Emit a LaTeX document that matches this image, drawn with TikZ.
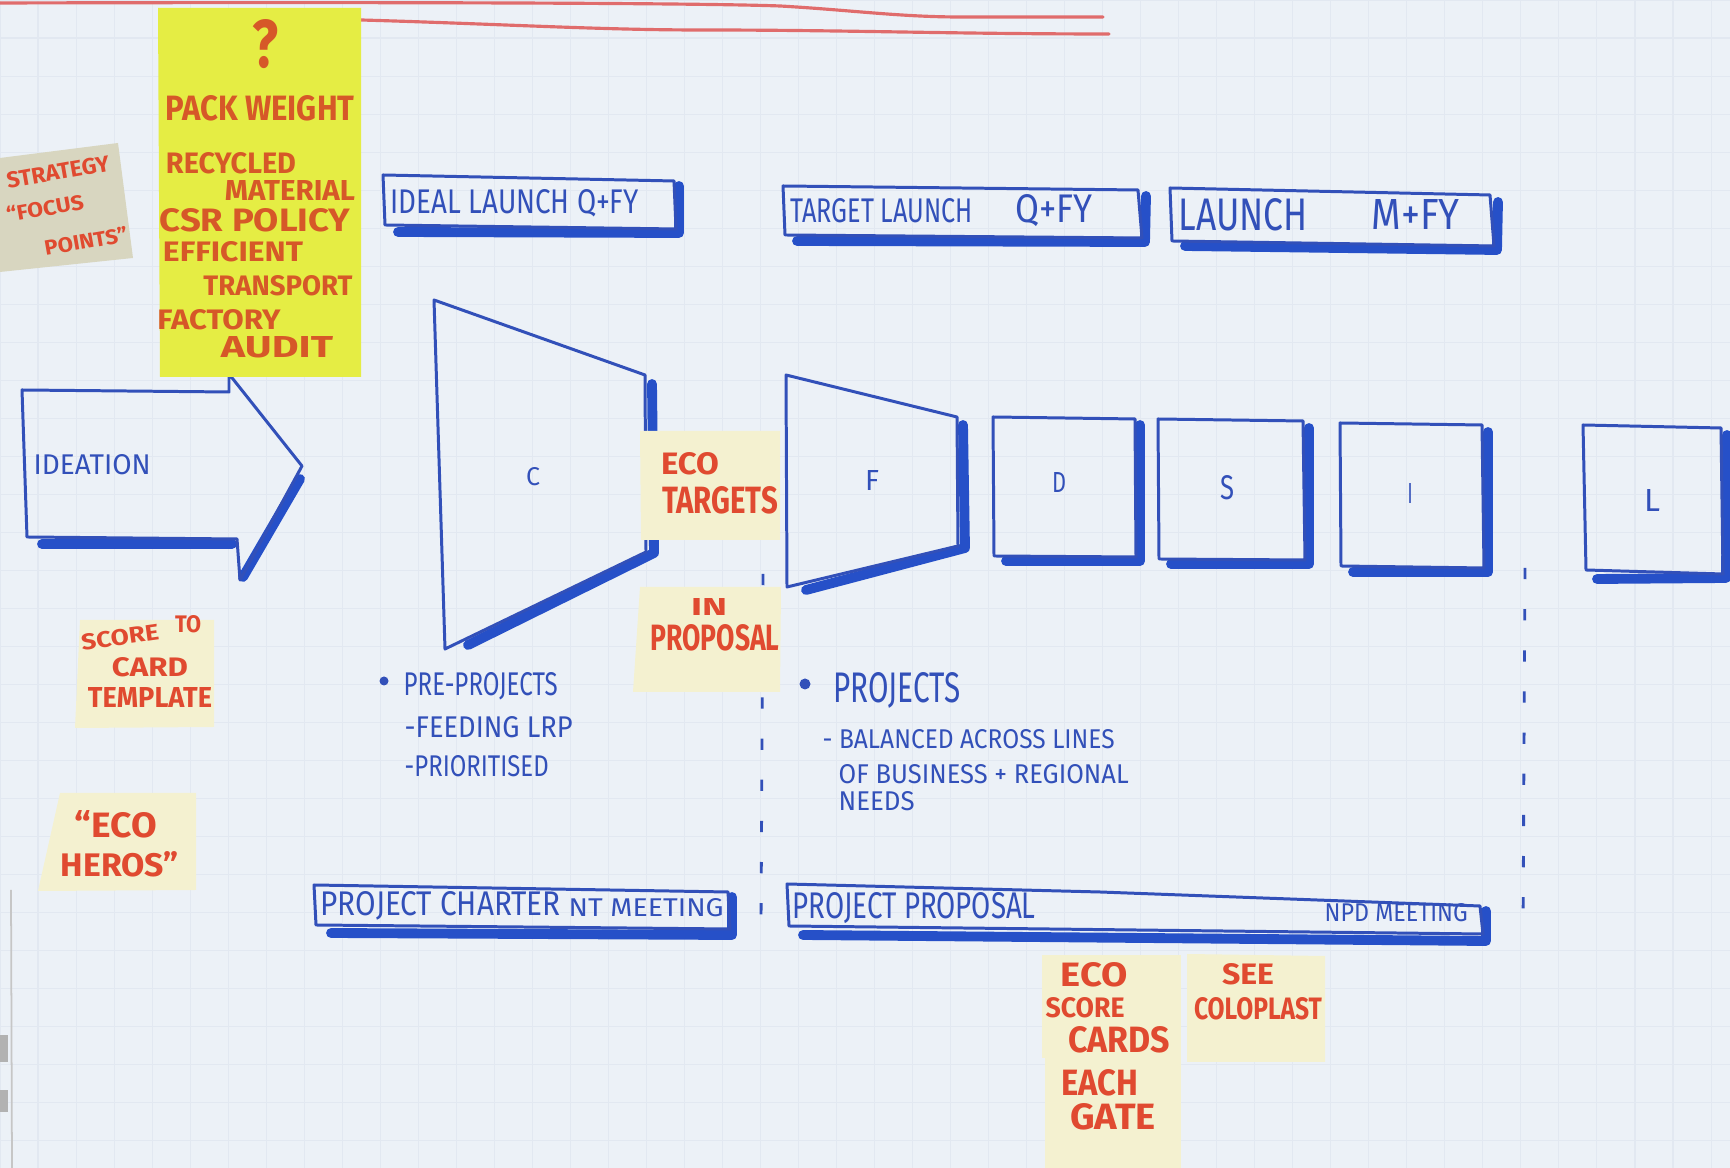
\documentclass[tikz,border=0pt]{standalone}
\usepackage{fontspec}
\setmainfont{Fira Sans}
\usepackage{graphicx}

\definecolor{paper}{RGB}{236,241,247}
\definecolor{gridc}{RGB}{226,232,241}
\definecolor{blueink}{RGB}{50,80,185}
\definecolor{blueshadow}{RGB}{38,80,200}
\definecolor{redink}{RGB}{224,74,48}
\definecolor{orangeink}{RGB}{214,88,40}
\definecolor{stickypale}{RGB}{244,241,208}
\definecolor{stickyyellow}{RGB}{229,237,68}
\definecolor{stickygrey}{RGB}{216,214,192}
\definecolor{redline}{RGB}{224,108,108}

% one drawing unit = one pixel of the sheet
\newlength\pxu \setlength\pxu{0.01cm}
% text squeezed to a given width and cap height (in pixels)
\newcommand\fitt[3]{\resizebox{#1\pxu}{#2\pxu}{#3}}

\tikzset{
  redtxt/.style={text=redink, font=\bfseries, inner sep=0pt},
  orangetxt/.style={text=orangeink, font=\bfseries, inner sep=0pt},
  bluetxt/.style={text=blueink, inner sep=0pt},
  thinline/.style={draw=blueink, line width=0.85pt, line join=round},
  shadowline/.style={draw=blueshadow, line width=2.8pt, line cap=round, line join=round},
  sepline/.style={draw=blueink, line width=0.8pt, dash pattern=on 3.2pt off 8.5pt},
  palenote/.style={fill=stickypale},
  penline/.style={draw=redline, line width=0.9pt, line cap=round},
}

\begin{document}
\begin{tikzpicture}[x=0.01cm, y=-0.01cm]
\useasboundingbox (0,0) rectangle (1730,1168);

% sheet of paper with its faint grid
\fill[paper] (0,0) rectangle (1730,1168);
\draw[gridc, line width=0.3pt] (0,0) grid[step=0.38cm] (1730,1168);
\draw[gray!45, line width=0.5pt] (11,890) -- (12,1168);
\fill[gray!60] (0,1035) rectangle (8,1062);
\fill[gray!60] (0,1090) rectangle (8,1112);

% underlines of the heading
\draw[penline] (0,3) .. controls (400,2) and (700,3) .. (780,6)
  .. controls (850,10) and (900,17) .. (960,17) -- (1103,17);
\draw[penline] (361,20) .. controls (500,24) and (600,30) .. (700,30)
  .. controls (850,30) and (950,34) .. (1109,34);

% ideation arrow
\draw[shadowline] (42,544) -- (232,544);
\draw[shadowline] (243,577) -- (300,479);
\draw[thinline] (22,390) -- (229,392) -- (229,374) -- (302,466) -- (240,580)
  -- (237,539) -- (27,537) -- cycle;

% launch headers
\draw[shadowline] (398,232) -- (679,233) -- (679,186);
\draw[thinline] (383,175) -- (674,181) -- (676,229) -- (385,225) -- cycle;
\draw[shadowline] (797,241) -- (1145,242) -- (1146,196);
\draw[thinline] (783,186) -- (1138,190) -- (1142,238) -- (785,235) -- cycle;
\draw[shadowline] (1185,246) -- (1497,250) -- (1498,202);
\draw[thinline] (1170,188) -- (1490,195) -- (1494,246) -- (1172,241) -- cycle;

% stage C (funnel)
\draw[shadowline] (652,384) -- (654,553) -- (468,645);
\draw[thinline] (434,300) -- (645,375) -- (646,552) -- (445,649) -- cycle;
% stage F (funnel)
\draw[shadowline] (963,425) -- (965,548) -- (806,590);
\draw[thinline] (786,375) -- (957,417) -- (958,546) -- (787,587) -- cycle;
% stages D, S, I, L
\draw[shadowline] (1006,561) -- (1140,561) -- (1140,425);
\draw[thinline] (993,417) -- (1135,419) -- (1136,557) -- (994,556) -- cycle;
\draw[shadowline] (1171,564) -- (1309,564) -- (1309,428);
\draw[thinline] (1158,419) -- (1303,421) -- (1305,560) -- (1159,559) -- cycle;
\draw[shadowline] (1353,572) -- (1488,572) -- (1488,432);
\draw[thinline] (1340,423) -- (1482,425) -- (1484,568) -- (1341,566) -- cycle;
\draw[shadowline] (1597,579) -- (1726,578) -- (1727,435);
\draw[thinline] (1583,425) -- (1721,428) -- (1723,574) -- (1586,570) -- cycle;

% meeting bars
\draw[shadowline] (331,933) -- (732,935) -- (732,897);
\draw[thinline] (314,885) -- (728,892) -- (730,929) -- (316,925) -- cycle;
\draw[shadowline] (803,935) -- (1486,941) -- (1486,911);
\draw[thinline] (787,884) -- (1100,892) -- (1480,906) -- (1483,934) -- (789,926) -- cycle;

% gate separators
\draw[sepline] (763,574) -- (761,925);
\draw[sepline] (1525,568) -- (1523,930);

% sticky notes
\fill[stickyyellow] (158,8) -- (361,8) -- (361,377) -- (160,377) -- cycle;
\fill[stickygrey] (0,158) -- (118,143) -- (133,258) -- (0,272) -- cycle;
\fill[palenote] (640,431) -- (780,431) -- (780,540) -- (641,540) -- cycle;
\fill[palenote] (640,587) -- (781,587) -- (780,692) -- (633,692) -- cycle;
\fill[palenote] (80,620) -- (214,620) -- (214,727) -- (75,728) -- cycle;
\fill[palenote] (60,793) -- (196,793) -- (196,890) -- (38,891) -- cycle;
\fill[palenote] (1042,955) -- (1181,955) -- (1181,1058) -- (1042,1058) -- cycle;
\fill[palenote] (1187,954) -- (1325,956) -- (1325,1062) -- (1187,1062) -- cycle;
\fill[palenote] (1045,1058) -- (1181,1058) -- (1181,1168) -- (1045,1168) -- cycle;

% yellow note: criteria
\node[orangetxt] (qmark) at (265,44) {\fitt{26}{48}{?}};
\node[orangetxt] (packw) at (260,108) {\fitt{189}{25}{PACK WEIGHT}};
\node[orangetxt] (recyc) at (231,163) {\fitt{130}{21}{RECYCLED}};
\node[orangetxt] (mater) at (290,191) {\fitt{130}{20}{MATERIAL}};
\node[orangetxt] (csrpol) at (255,220) {\fitt{191}{23}{CSR POLICY}};
\node[orangetxt] (effic) at (233,252) {\fitt{140}{20}{EFFICIENT}};
\node[orangetxt] (transp) at (278,286) {\fitt{149}{20}{TRANSPORT}};
\node[orangetxt] (factry) at (219,320) {\fitt{123}{20}{FACTORY}};
\node[orangetxt] (audit) at (277,347) {\fitt{112}{21}{AUDIT}};

% grey note
\node[redtxt, rotate=10] (strat) at (58,172) {\fitt{104}{16}{STRATEGY}};
\node[redtxt, rotate=10] (focus) at (45,208) {\fitt{78}{16}{“FOCUS}};
\node[redtxt, rotate=10] (points) at (86,241) {\fitt{84}{16}{POINTS”}};

% pale notes
\node[redtxt] (eco1) at (690,464) {\fitt{58}{22}{ECO}};
\node[redtxt] (targ) at (720,500) {\fitt{116}{27}{TARGETS}};
\node[redtxt] (inp) at (709,607) {\fitt{36}{17}{IN}};
\node[redtxt] (propl) at (715,638) {\fitt{129}{26}{PROPOSAL}};
\node[redtxt, rotate=8] (score1) at (120,637) {\fitt{78}{16}{SCORE}};
\node[redtxt] (to) at (188,624) {\fitt{26}{17}{TO}};
\node[redtxt] (card) at (150,667) {\fitt{76}{19}{CARD}};
\node[redtxt] (templ) at (150,698) {\fitt{124}{20}{TEMPLATE}};
\node[redtxt] (eco2) at (116,824) {\fitt{82}{27}{“ECO}};
\node[redtxt] (heros) at (120,864) {\fitt{118}{25}{HEROS”}};
\node[redtxt] (eco3) at (1094,975) {\fitt{67}{24}{ECO}};
\node[redtxt] (score2) at (1085,1008) {\fitt{79}{20}{SCORE}};
\node[redtxt] (cards) at (1119,1040) {\fitt{102}{26}{CARDS}};
\node[redtxt] (each) at (1100,1083) {\fitt{77}{26}{EACH}};
\node[redtxt] (gate) at (1113,1117) {\fitt{86}{26}{GATE}};
\node[redtxt] (see) at (1248,974) {\fitt{52}{21}{SEE}};
\node[redtxt] (colo) at (1258,1009) {\fitt{128}{22}{COLOPLAST}};

% blue writing
\node[bluetxt, anchor=west] (ideat) at (33,465) {\fitt{117}{20}{IDEATION}};
\node[bluetxt, anchor=west] (hdr1) at (390,203) {\fitt{248}{24}{IDEAL LAUNCH Q+FY}};
\node[bluetxt, anchor=west] (hdr2a) at (790,211) {\fitt{182}{24}{TARGET LAUNCH}};
\node[bluetxt, anchor=west] (hdr2b) at (1015,211) {\fitt{77}{28}{Q+FY}};
\node[bluetxt, anchor=west] (hdr3a) at (1178,215) {\fitt{129}{32}{LAUNCH}};
\node[bluetxt, anchor=west] (hdr3b) at (1371,215) {\fitt{88}{30}{M+FY}};

\node[bluetxt] (lc) at (533,477) {\fitt{14}{18}{C}};
\node[bluetxt] (lf) at (872,481) {\fitt{14}{20}{F}};
\node[bluetxt] (ld) at (1059,483) {\fitt{14}{20}{D}};
\node[bluetxt] (ls) at (1227,488) {\fitt{14}{24}{S}};
\node[bluetxt] (li) at (1410,494) {\fitt{5}{20}{I}};
\node[bluetxt] (ll) at (1652,501) {\fitt{16}{22}{L}};

\fill[blueink] (384,681) circle[radius=4.5];
\node[bluetxt, anchor=west] (pre) at (403,686) {\fitt{154}{23}{PRE-PROJECTS}};
\node[bluetxt, anchor=west] (feed) at (404,727) {\fitt{168}{21}{-FEEDING LRP}};
\node[bluetxt, anchor=west] (prio) at (404,766) {\fitt{144}{21}{-PRIORITISED}};

\fill[blueink] (805,684) circle[radius=5.5];
\node[bluetxt, anchor=west] (proj) at (833,690) {\fitt{127}{30}{PROJECTS}};
\node[bluetxt, anchor=west] (bal) at (822,739) {\fitt{292}{19}{- BALANCED ACROSS LINES}};
\node[bluetxt, anchor=west] (ofb) at (838,774) {\fitt{290}{19}{OF BUSINESS + REGIONAL}};
\node[bluetxt, anchor=west] (needs) at (838,801) {\fitt{76}{19}{NEEDS}};

\node[bluetxt, anchor=west] (charter) at (320,906) {\fitt{240}{24}{PROJECT CHARTER}};
\node[bluetxt, anchor=west] (ntm) at (568,908) {\fitt{155}{18}{NT MEETING}};
\node[bluetxt, anchor=west] (propo) at (792,908) {\fitt{243}{26}{PROJECT PROPOSAL}};
\node[bluetxt, anchor=west] (npd) at (1324,913) {\fitt{143}{18}{NPD MEETING}};
\end{tikzpicture}
\end{document}
